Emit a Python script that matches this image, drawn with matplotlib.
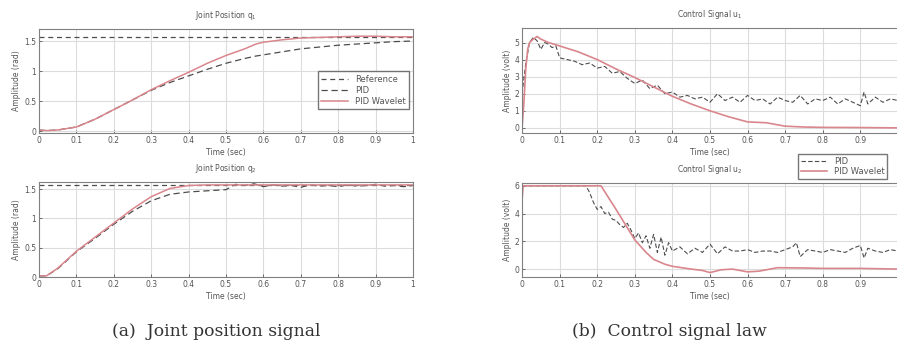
import numpy as np
import matplotlib.pyplot as plt

# -------- data --------

# joint 1 position (rad)
t_q1 = [0, 0.02, 0.05, 0.08, 0.1, 0.15, 0.2, 0.25, 0.3, 0.35, 0.4, 0.45, 0.5,
        0.55, 0.58, 0.6, 0.65, 0.7, 0.75, 0.8, 0.85, 0.9, 0.95, 1.0]
q1_pid = [0.02, 0.01, 0.02, 0.05, 0.07, 0.2, 0.36, 0.52, 0.68, 0.81, 0.92, 1.03, 1.13,
          1.21, 1.25, 1.27, 1.32, 1.37, 1.40, 1.43, 1.45, 1.47, 1.49, 1.50]
q1_wav = [0.02, 0.01, 0.02, 0.05, 0.07, 0.2, 0.36, 0.52, 0.69, 0.84, 0.98, 1.13, 1.26,
          1.37, 1.45, 1.48, 1.52, 1.55, 1.56, 1.57, 1.58, 1.58, 1.57, 1.57]

# joint 2 position (rad)
t_q2w = [0, 0.02, 0.05, 0.1, 0.15, 0.2, 0.25, 0.3, 0.35, 0.4, 0.45, 0.5, 1.0]
q2_wav = [0.02, 0.02, 0.15, 0.44, 0.68, 0.92, 1.16, 1.37, 1.51, 1.56, 1.57, 1.57, 1.57]
t_q2p = [0, 0.02, 0.05, 0.1, 0.15, 0.2, 0.25, 0.3, 0.35, 0.4, 0.45, 0.5,
         0.525, 0.55, 0.575, 0.6, 0.625, 0.65, 0.675, 0.7, 0.725, 0.75,
         0.775, 0.8, 0.825, 0.85, 0.875, 0.9, 0.925, 0.95, 0.975, 1.0]
q2_pid = [0.02, 0.02, 0.14, 0.43, 0.66, 0.9, 1.12, 1.3, 1.41, 1.45, 1.47, 1.49,
          1.58, 1.56, 1.59, 1.54, 1.57, 1.55, 1.56, 1.53, 1.57, 1.55,
          1.56, 1.54, 1.57, 1.55, 1.56, 1.58, 1.55, 1.56, 1.54, 1.56]
q_ref = 1.5708

# control signal u1 (volt)
t_u1w = [0, 0.005, 0.01, 0.015, 0.02, 0.03, 0.04, 0.05, 0.07, 0.1, 0.15, 0.2, 0.25,
         0.3, 0.35, 0.4, 0.45, 0.5, 0.55, 0.6, 0.65, 0.7, 0.75, 0.8, 0.9, 1.0]
u1_wav = [0, 1.5, 3.5, 4.6, 5.0, 5.2, 5.35, 5.2, 5.0, 4.8, 4.45, 4.0, 3.45,
          2.95, 2.4, 1.85, 1.4, 1.0, 0.65, 0.35, 0.3, 0.1, 0.05, 0.03, 0.02, 0.0]
t_u1p = [0, 0.01, 0.02, 0.03, 0.04, 0.05, 0.06, 0.07, 0.08, 0.09,
         0.10, 0.12, 0.14, 0.16, 0.18, 0.20, 0.22, 0.24, 0.26, 0.28,
         0.30, 0.32, 0.34, 0.36, 0.38, 0.40, 0.42, 0.44, 0.46, 0.48,
         0.50, 0.52, 0.54, 0.56, 0.58, 0.60, 0.62, 0.64, 0.66, 0.68,
         0.70, 0.72, 0.74, 0.76, 0.78, 0.80, 0.82, 0.84, 0.86, 0.88,
         0.90, 0.91, 0.92, 0.94, 0.96, 0.98, 1.00]
u1_pid = [2.0, 3.8, 5.0, 5.3, 5.1, 4.6, 5.0, 4.9, 4.7, 4.8,
          4.1, 4.0, 3.9, 3.7, 3.8, 3.5, 3.6, 3.2, 3.3, 2.9,
          2.6, 2.8, 2.3, 2.5, 2.0, 2.1, 1.8, 1.9, 1.7, 1.8,
          1.5, 2.0, 1.6, 1.8, 1.5, 1.9, 1.6, 1.7, 1.4, 1.8,
          1.6, 1.5, 1.9, 1.4, 1.7, 1.6, 1.8, 1.4, 1.7, 1.5,
          1.3, 2.1, 1.4, 1.8, 1.5, 1.7, 1.6]

# control signal u2 (volt)
t_u2w = [0, 0.003, 0.01, 0.21, 0.25, 0.3, 0.33, 0.35, 0.38, 0.4, 0.45, 0.48, 0.5,
         0.53, 0.56, 0.6, 0.63, 0.66, 0.68, 0.75, 0.8, 0.9, 1.0]
u2_wav = [5.0, 6, 6, 6, 4.3, 2.1, 1.2, 0.7, 0.35, 0.2, 0.0, -0.1, -0.25,
          -0.05, 0.0, -0.2, -0.15, 0.0, 0.1, 0.08, 0.05, 0.05, 0.0]
t_u2p = [0, 0.17, 0.18, 0.19, 0.20, 0.21, 0.22, 0.23, 0.24, 0.25, 0.26, 0.27, 0.28,
         0.29, 0.30, 0.31, 0.32, 0.33, 0.34, 0.35, 0.36, 0.37, 0.38, 0.39, 0.40,
         0.42, 0.44, 0.46, 0.48, 0.50, 0.52, 0.54, 0.56, 0.58, 0.60, 0.62, 0.64,
         0.66, 0.68, 0.70, 0.72, 0.73, 0.74, 0.76, 0.78, 0.80, 0.82, 0.84, 0.86,
         0.88, 0.90, 0.91, 0.92, 0.94, 0.96, 0.98, 1.00]
u2_pid = [6, 6, 5.5, 4.8, 4.3, 4.5, 4.0, 4.1, 3.6, 3.5, 3.2, 3.0, 3.3,
          2.8, 2.2, 2.6, 1.9, 2.4, 1.5, 2.5, 1.2, 2.3, 1.0, 1.9, 1.3,
          1.6, 1.1, 1.5, 1.2, 1.8, 1.1, 1.6, 1.3, 1.3, 1.4, 1.2, 1.3,
          1.3, 1.2, 1.4, 1.6, 1.9, 0.9, 1.4, 1.3, 1.2, 1.4, 1.3, 1.2,
          1.5, 1.7, 0.8, 1.5, 1.3, 1.2, 1.4, 1.3]

xtick_labels = ['0', '0.1', '0.2', '0.3', '0.4', '0.5', '0.6', '0.7', '0.8', '0.9', '1']

# -------- style --------
red = '#d9868c'
dark = '#4d4d4d'
txt = '#555555'
fs = 5.5

fig = plt.figure(figsize=(8.97, 3.46), dpi=100)


def style_axes(ax, title, ylabel, ylim, yticks, xlabels):
    ax.set_xlim(0, 1)
    ax.set_ylim(*ylim)
    ax.set_xticks(np.round(np.arange(0, 1.01, 0.1), 1))
    ax.set_xticklabels(xlabels)
    ax.set_yticks(yticks)
    ax.set_yticklabels([f'{v:g}' for v in yticks])
    ax.tick_params(direction='in', length=2, width=0.6, labelsize=fs, colors=txt, pad=2)
    ax.grid(True, color='#dcdcdc', linewidth=0.8)
    for sp in ax.spines.values():
        sp.set_color('#808080')
        sp.set_linewidth(0.8)
    ax.set_title(title, fontsize=fs, color=txt, pad=8)
    ax.set_xlabel('Time (sec)', fontsize=fs, color=txt, labelpad=2)
    ax.set_ylabel(ylabel, fontsize=fs, color=txt, labelpad=2)


# -------- (a) joint positions --------
ax1 = fig.add_axes([0.0435, 0.6156, 0.417, 0.3006])
ax1.axhline(q_ref, color=dark, linestyle=(0, (4, 3)), linewidth=0.9, label='Reference')
ax1.plot(t_q1, q1_pid, color=dark, linestyle=(0, (5, 3)), linewidth=0.9, label='PID')
ax1.plot(t_q1, q1_wav, color=red, linewidth=1.1, label='PID Wavelet')
style_axes(ax1, 'Joint Position q$_1$', 'Amplitude (rad)', (-0.03, 1.7),
           [0, 0.5, 1, 1.5], xtick_labels)
leg = ax1.legend(loc='lower right', bbox_to_anchor=(1.0, 0.19), fontsize=fs + 0.5,
                 frameon=True, fancybox=False, edgecolor='#555555', handlelength=3.2,
                 borderpad=0.4, labelspacing=0.25)
for t in leg.get_texts():
    t.set_color(txt)

ax2 = fig.add_axes([0.0435, 0.1994, 0.417, 0.2746])
ax2.axhline(q_ref, color=dark, linestyle=(0, (4, 3)), linewidth=0.9)
ax2.plot(t_q2p, q2_pid, color=dark, linestyle=(0, (5, 3)), linewidth=0.9)
ax2.plot(t_q2w, q2_wav, color=red, linewidth=1.1)
style_axes(ax2, 'Joint Position q$_2$', 'Amplitude (rad)', (0, 1.62),
           [0, 0.5, 1, 1.5], xtick_labels)

# -------- (b) control signals (right edge cropped, no "1" label) --------
ax3 = fig.add_axes([0.582, 0.6156, 0.419, 0.3035])
ax3.plot(t_u1p, u1_pid, color=dark, linestyle=(0, (4, 2)), linewidth=0.8, label='PID')
ax3.plot(t_u1w, u1_wav, color=red, linewidth=1.2, label='PID Wavelet')
style_axes(ax3, 'Control Signal u$_1$', 'Amplitude (volt)', (-0.3, 5.85),
           [0, 1, 2, 3, 4, 5], xtick_labels[:-1] + [''])

ax4 = fig.add_axes([0.582, 0.1994, 0.419, 0.2717])
ax4.plot(t_u2p, u2_pid, color=dark, linestyle=(0, (4, 2)), linewidth=0.8)
ax4.plot(t_u2w, u2_wav, color=red, linewidth=1.2)
style_axes(ax4, 'Control Signal u$_2$', 'Amplitude (volt)', (-0.57, 6.2),
           [0, 2, 4, 6], xtick_labels[:-1] + [''])

h, l = ax3.get_legend_handles_labels()
leg2 = fig.legend(h, l, loc='upper left', bbox_to_anchor=(794 / 897, 1 - 150 / 346),
                  fontsize=fs + 0.5, frameon=True, fancybox=False, edgecolor='#555555',
                  handlelength=3.2, borderpad=0.3, labelspacing=0.2)
for t in leg2.get_texts():
    t.set_color(txt)

# -------- captions --------
fig.text(216 / 897, 1 - 331 / 346, '(a)  Joint position signal', ha='center', va='center',
         fontsize=12.3, family='DejaVu Serif', color='#333333')
fig.text(669 / 897, 1 - 331 / 346, '(b)  Control signal law', ha='center', va='center',
         fontsize=12.3, family='DejaVu Serif', color='#333333')

fig.savefig('out.png', dpi=100)
